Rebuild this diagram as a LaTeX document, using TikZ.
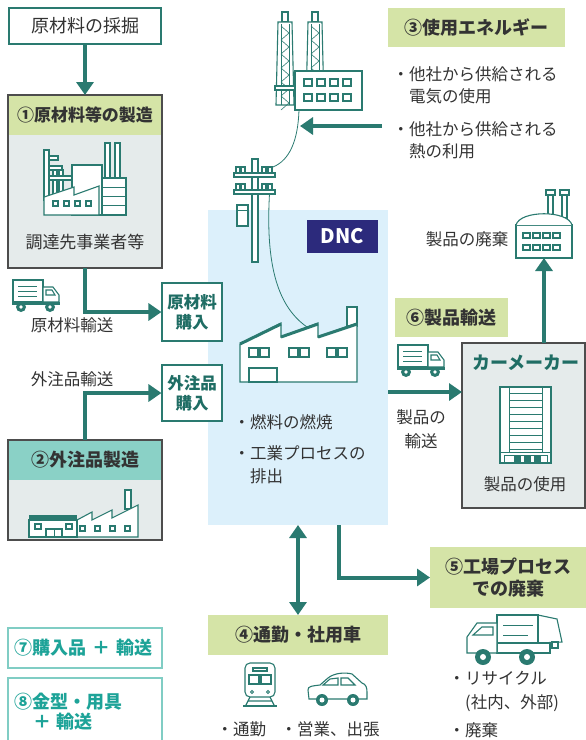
\documentclass[tikz,border=0pt]{standalone}
\usepackage{fontspec}
\setmainfont{Noto Sans CJK JP}
\usetikzlibrary{arrows.meta}

\definecolor{tealline}{HTML}{2A7A70}
\definecolor{headgreen}{HTML}{D5E4A7}
\definecolor{headteal}{HTML}{8AD1C6}
\definecolor{boxgray}{HTML}{E5EBEB}
\definecolor{boxedge}{HTML}{4D4D4D}
\definecolor{dncblue}{HTML}{DCF0FB}
\definecolor{dncnavy}{HTML}{2C2A7C}
\definecolor{textgray}{HTML}{333333}
\definecolor{darkteal}{HTML}{1F6D64}
\definecolor{lightteal}{HTML}{80CDC4}
\definecolor{brightteal}{HTML}{1DA398}

\newcommand{\dotitem}{\llap{・}}

\tikzset{
  flow/.style={draw=tealline, line width=4pt, -{Triangle[length=13pt,width=17pt]}},
  flowboth/.style={draw=tealline, line width=4pt, {Triangle[length=13pt,width=17pt]}-{Triangle[length=13pt,width=17pt]}},
  icon/.style={draw=tealline, line width=1.1pt, fill=white},
  wire/.style={draw=tealline, line width=0.8pt},
  txt/.style={text=textgray, inner sep=0pt, font=\fontsize{16.5}{22}\selectfont},
  headbox/.style={text=textgray, inner sep=0pt, outer sep=0pt, font=\fontsize{18}{22}\selectfont\bfseries},
  tealbox/.style={draw=tealline, line width=1.1pt, fill=white},
  buytxt/.style={text=darkteal, align=center, inner sep=0pt, font=\fontsize{16.5}{20}\selectfont\bfseries},
  graybox/.style={fill=boxgray, outer sep=0pt, inner sep=0pt},
  boxline/.style={draw=boxedge, line width=1.2pt},
  kitbox/.style={draw=lightteal, line width=1.2pt, fill=white, text=brightteal, align=left,
    text width=140pt, inner xsep=7pt, inner ysep=0pt, font=\fontsize{18}{20}\selectfont\bfseries},
  truck/.pic={
    \draw[icon] (0,0) rectangle (30,22);
    \draw[tealline, line width=1pt] (5,6) -- (24,6) (5,11) -- (24,11) (5,16) -- (24,16);
    \draw[icon] (30,7) -- (40,7) -- (46,15) -- (46,22) -- (30,22) -- cycle;
    \draw[icon] (33,10) -- (39,10) -- (42,15) -- (33,15) -- cycle;
    \fill[tealline] (-1,22) rectangle (47,25);
    \foreach \x in {8,37} {\fill[tealline] (\x,27) circle (5); \fill[white] (\x,27) circle (1.8);}
  }
}

\begin{document}
\begin{tikzpicture}[x=1pt,y=-1pt]
\useasboundingbox (0,0) rectangle (586,740);
\clip (0,0) rectangle (586,740);

% DNC site
\node[fill=dncblue, minimum width=180pt, minimum height=315pt, outer sep=0pt] (dnc) at (298,367.5) {};
\node[fill=dncnavy, text=white, font=\fontsize{20}{24}\selectfont\bfseries, minimum width=71pt, minimum height=33pt] (dnctag) at (342.5,236.5) {DNC};

% power plant
\foreach \x in {276,306} {
  \draw[icon] (\x+6,12) rectangle (\x+12,22);
  \draw[icon] (\x,105) -- (\x+2,22) -- (\x+16,22) -- (\x+18,105) -- cycle;
  \draw[tealline, line width=0.7pt] (\x+5,24) -- (\x+5,105) (\x+13,24) -- (\x+13,105);
  \foreach \y in {26,40,...,96} \draw[tealline, line width=0.6pt] (\x+5,\y) -- (\x+13,\y+7) -- (\x+5,\y+14);
}
\draw[icon] (275,86) rectangle (296,90);
\draw[icon] (295,71) rectangle (362,110);
\foreach \x in {304,317,330,343} {\draw[icon] (\x,79) rectangle ++(8,7); \draw[icon] (\x,94) rectangle ++(8,7);}

% pole and wires
\draw[wire] (299,110) .. controls (298,140) and (290,160) .. (273,167);
\draw[wire] (270,186) .. controls (264,270) and (280,308) .. (307,327);
\draw[icon] (252,159) rectangle (258,262);
\foreach \y in {173,190} {
  \draw[icon] (234,\y) rectangle (275,\y+4);
  \foreach \x in {236,241,262,268} \draw[icon] (\x,\y-6) rectangle ++(4,6);
}
\draw[icon] (237,205) rectangle (248,226);
\draw[tealline, line width=1pt] (237,210) -- (248,210);

% DNC factory
\draw[icon] (347,307) rectangle (357,326);
\draw[icon] (240,382) -- (240,344) -- (281,323) -- (281,337) -- (318,323) -- (318,337) -- (357,323) -- (357,382) -- cycle;
\draw[tealline, line width=3pt] (240,344) -- (281,324) (281,337) -- (318,324) (318,337) -- (357,324);
\foreach \x in {249,260,289,300,327,338} \draw[icon] (\x,348) rectangle ++(9,9);
\draw[icon] (249,368) rectangle (277,382);

\node[txt, anchor=west] (burn) at (250,422) {\dotitem 燃料の燃焼};
\node[txt, anchor=west, align=left, font=\fontsize{16.5}{23}\selectfont] (process) at (250,464.5) {\dotitem 工業プロセスの\\排出};

% raw material side
\node[tealbox, txt, font=\fontsize{18}{22}\selectfont, minimum width=152pt, minimum height=36pt] (mine) at (85,26) {原材料の採掘};

\node[graybox, minimum width=154pt, minimum height=173pt] (maker1) at (85,181.5) {};
\node[headbox, fill=headgreen, minimum width=152.8pt, minimum height=40pt, anchor=north, font=\fontsize{17}{22}\selectfont\bfseries] (head1) at (maker1.north) {①原材料等の製造};
\draw[boxline] (maker1.north west) rectangle (maker1.south east);
\draw[icon] (105,143) rectangle (110,180);
\draw[icon] (115,143) rectangle (120,180);
\draw[icon] (102,178) rectangle (126,215);
\draw[tealline, line width=1pt] (102,187) -- (126,187) (102,196) -- (126,196) (102,205) -- (126,205);
\draw[icon] (72,165) rectangle (102,215);
\draw[icon] (44,150) rectangle (49,200);
\draw[icon] (49,156) rectangle (58,160);
\draw[icon] (49,166) rectangle (62,170);
\draw[icon] (53,170) rectangle (57,198);
\draw[icon] (59,170) rectangle (63,198);
\draw[icon] (49,176) rectangle (72,180);
\draw[icon] (44,215) -- (44,197) -- (74,187) -- (74,195) -- (99,186) -- (99,215) -- cycle;
\foreach \x in {53,64,75,86} \draw[icon] (\x,201) rectangle ++(5,5);
\node[txt, font=\fontsize{17}{22}\selectfont] (supplier) at (85,242) {調達先事業者等};

\pic at (13,280) {truck};
\node[txt] (rawship) at (72,325) {原材料輸送};
\node[tealbox, buytxt, minimum width=60pt, minimum height=58pt] (buy1) at (192,312) {原材料\\購入};

\node[txt] (partship) at (72,379) {外注品輸送};
\node[tealbox, buytxt, minimum width=60pt, minimum height=56pt] (buy2) at (192,393) {外注品\\購入};

\node[graybox, minimum width=154pt, minimum height=100pt] (maker2) at (85,490) {};
\node[headbox, fill=headteal, minimum width=152.8pt, minimum height=40pt, anchor=north] (head2) at (maker2.north) {②外注品製造};
\draw[icon] (125,490) rectangle (131,509);
\draw[icon] (77,537) -- (77,520) -- (92,512) -- (92,520) -- (112,510) -- (112,518) -- (138,505) -- (138,537) -- cycle;
\foreach \x in {80,95,110,125} \draw[icon] (\x,526) rectangle ++(5,5);
\draw[icon] (29,520) rectangle (77,537);
\fill[tealline] (29,515) rectangle (77,520);
\draw[icon] (35,524) rectangle ++(6,5);
\draw[icon] (66,524) rectangle ++(6,5);
\draw[icon] (46,529) rectangle (62,537);
\draw[tealline, line width=1pt] (54,529) -- (54,537);
\draw[boxline] (maker2.north west) rectangle (maker2.south east);

% energy
\node[headbox, fill=headgreen, minimum width=177pt, minimum height=39pt] (energy) at (476.5,27.5) {③使用エネルギー};
\node[txt, anchor=west, align=left] (power) at (409,85) {\dotitem 他社から供給される\\電気の使用};
\node[txt, anchor=west, align=left] (heat) at (409,140) {\dotitem 他社から供給される\\熱の利用};
\coordinate (heatin) at (382,126);
\coordinate (plantin) at (300,126);

% product side
\node[icon, minimum width=56pt, minimum height=33pt, inner sep=0pt, outer sep=0pt] (wasteplant) at (544,241.5) {};
\draw[icon] (548,195) rectangle (553,216);
\draw[icon] (562,195) rectangle (567,218);
\draw[icon] (546,190) rectangle (555,195);
\draw[icon] (560,190) rectangle (569,195);
\draw[icon] (516,225) .. controls (520,210) and (568,210) .. (572,225);
\foreach \x in {523,533,543,553} {\draw[icon] (\x,233) rectangle ++(7,5); \draw[icon] (\x,245) rectangle ++(7,5);}
\node[txt] (scrap) at (467,239) {製品の廃棄};

\node[headbox, fill=headgreen, minimum width=113pt, minimum height=39pt] (shipbox) at (451.5,317.5) {⑥製品輸送};
\pic at (398,345) {truck};
\node[txt, align=center, font=\fontsize{16.5}{24}\selectfont] (shiptxt) at (421,429) {製品の\\輸送};
\coordinate (shipout) at (388,392);

\node[graybox, draw=boxedge, line width=1.2pt, minimum width=123pt, minimum height=165pt] (carmaker) at (523.5,425.5) {};
\node[text=darkteal, inner sep=0pt, font=\fontsize{18}{22}\selectfont\bfseries] (carname) at (526,363) {カーメーカー};
\draw[icon] (500,387) rectangle (551,463);
\draw[tealline, line width=1pt] (509,387) -- (509,452) (542,387) -- (542,452);
\foreach \y in {393,400,...,449} \draw[tealline, line width=0.9pt] (509,\y) -- (542,\y);
\draw[tealline, line width=1pt] (500,452) -- (551,452) (504,455) rectangle (547,463);
\foreach \x in {514,524,534} \fill[tealline] (\x,455) rectangle ++(7,8);
\node[txt] (use) at (525,484) {製品の使用};

% bottom
\node[headbox, fill=headgreen, minimum width=180pt, minimum height=40pt] (commute) at (298,635) {④通勤・社用車};
\node[headbox, fill=headgreen, align=center, minimum width=156pt, minimum height=61pt] (wasteproc) at (508,577.5) {⑤工場プロセス\\での廃棄};
\coordinate (procout) at (339,525);

% train
\draw[icon, rounded corners=5pt] (245,663) rectangle (275,697);
\draw[icon] (253,668) rectangle (267,671);
\draw[icon] (249,675) rectangle (259,684);
\draw[icon] (261,675) rectangle (271,684);
\draw[tealline, line width=1pt] (252,692) circle (1.5) (268,692) circle (1.5);
\draw[tealline, line width=1.2pt] (250,697) -- (246,705) (270,697) -- (274,705) (248,701) -- (272,701);
\draw[tealline, line width=2.5pt] (243,706) -- (277,706);
% car
\draw[icon] (309,699) -- (308,690) .. controls (308,686) and (312,686) .. (320,685) -- (328,678) .. controls (334,673) and (345,672) .. (352,674) -- (362,683) .. controls (366,684) and (367,688) .. (367,692) -- (367,699) -- cycle;
\draw[icon] (323,685) -- (330,679) -- (338,678) -- (338,685) -- cycle;
\draw[icon] (341,685) -- (341,678) -- (348,678) -- (355,685) -- cycle;
\foreach \x in {322,353} {\fill[tealline] (\x,700) circle (6); \fill[white] (\x,700) circle (2.5);}
\node[txt, anchor=west] (commutetxt) at (233,729) {\dotitem 通勤};
\node[txt, anchor=west] (salestxt) at (297,729) {\dotitem 営業、出張};

% garbage truck
\draw[icon] (538,615) -- (557,619) -- (562,642) -- (538,643) -- cycle;
\draw[icon] (552,642) rectangle (558,648);
\draw[icon] (497,615) rectangle (538,643);
\draw[tealline, line width=1pt] (503,625) -- (533,625) (503,635) -- (528,635);
\draw[icon] (497,643) rectangle (550,653);
\draw[icon] (467,653) -- (467,637) -- (477,623) -- (497,623) -- (497,653) -- cycle;
\draw[icon] (473,635) -- (482,627) -- (493,627) -- (493,635) -- cycle;
\foreach \x in {483,527} {\fill[tealline] (\x,657) circle (8); \fill[white] (\x,657) circle (3);}
\node[txt, anchor=west, align=left, font=\fontsize{16.5}{24}\selectfont] (recycle) at (465,691) {\dotitem リサイクル\\(社内、外部)};
\node[txt, anchor=west] (dispose) at (465,730) {\dotitem 廃棄};

\node[kitbox, minimum height=40pt] (buyship) at (85,648) {⑦購入品 ＋ 輸送};
\node[kitbox, minimum height=67pt] (tooling) at (85,711.5) {⑧金型・用具\\\hspace*{1em}＋ 輸送};

% connectors
\draw[flow] (mine) -- (maker1);
\draw[flow] (maker1.south) |- (buy1.west);
\draw[flow] (maker2.north) |- (buy2.west);
\draw[flow] (heatin) -- (plantin);
\draw[flow] (carmaker.north -| wasteplant.south) -- (wasteplant.south);
\draw[flow] (shipout) -- (shipout -| carmaker.west);
\draw[flowboth] (dnc.south) -- (commute.north);
\draw[flow] (procout) |- (wasteproc.west);
\end{tikzpicture}
\end{document}
